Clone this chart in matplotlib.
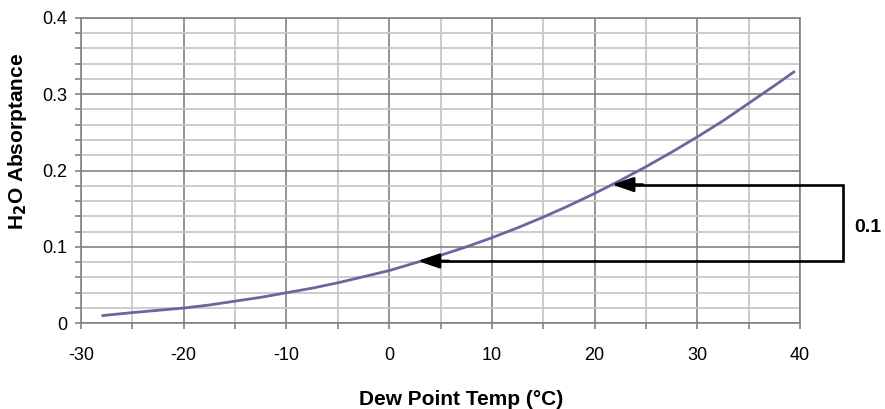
import matplotlib.pyplot as plt
from matplotlib.ticker import MultipleLocator

plt.rcParams['font.family'] = ['Liberation Sans', 'DejaVu Sans']

# values
dew_point = [-28, -25, -22.5, -20, -17.5, -15, -12.5, -10, -7.5, -5, -2.5, 0,
             2.5, 5, 7.5, 10, 12.5, 15, 17.5, 20, 22.5, 25, 27.5, 30, 32.5,
             35, 37.5, 39.5]
absorptance = [0.010, 0.014, 0.017, 0.020, 0.024, 0.029, 0.034, 0.040, 0.046,
               0.053, 0.061, 0.069, 0.079, 0.089, 0.100, 0.112, 0.125, 0.139,
               0.154, 0.170, 0.187, 0.205, 0.224, 0.244, 0.265, 0.288, 0.311,
               0.330]

# annotation: two levels differing by 0.1
arrow_y = [0.1816, 0.0816]
arrow_tip_x = [21.7, 2.8]
bracket_x = 44.2
delta_label = "0.1"

x_ticks = [-30, -20, -10, 0, 10, 20, 30, 40]
y_ticks = [0, 0.1, 0.2, 0.3, 0.4]
y_tick_labels = ["0", "0.1", "0.2", "0.3", "0.4"]

fig = plt.figure(figsize=(8.85, 4.09), dpi=100)
ax = fig.add_axes([0.0915, 0.2095, 0.8125, 0.7472])

ax.set_xlim(-30, 40)
ax.set_ylim(0, 0.4)

ax.xaxis.set_major_locator(MultipleLocator(10))
ax.xaxis.set_minor_locator(MultipleLocator(5))
ax.yaxis.set_major_locator(MultipleLocator(0.1))
ax.yaxis.set_minor_locator(MultipleLocator(0.02))
ax.set_xticks(x_ticks)
ax.set_xticklabels([str(t) for t in x_ticks])
ax.set_yticks(y_ticks)
ax.set_yticklabels(y_tick_labels)

ax.grid(which='minor', color='#c8c8c8', linewidth=1.3)
ax.grid(which='major', color='#828282', linewidth=1.2)
ax.set_axisbelow(True)

for s in ax.spines.values():
    s.set_color('#828282')
    s.set_linewidth(1.2)

ax.tick_params(axis='both', which='both', direction='out', color='#828282', width=1.2)
ax.tick_params(axis='x', which='both', length=4, pad=13, labelsize=13)
ax.tick_params(axis='y', which='both', length=4, pad=6, labelsize=13)

ax.plot(dew_point, absorptance, color='#68689e', linewidth=2.0,
        solid_capstyle='butt', solid_joinstyle='round', zorder=3)

# bracket + arrows
ax.plot([arrow_tip_x[0] + 1.5, bracket_x, bracket_x, arrow_tip_x[1] + 1.5],
        [arrow_y[0], arrow_y[0], arrow_y[1], arrow_y[1]],
        color='black', linewidth=1.9, clip_on=False, zorder=4, solid_joinstyle='miter')
for tip, yv in zip(arrow_tip_x, arrow_y):
    ax.annotate('', xy=(tip, yv), xytext=(tip + 3, yv), annotation_clip=False,
                arrowprops=dict(arrowstyle='-|>,head_length=1.3,head_width=0.45',
                                color='black', lw=1.9, shrinkA=0, shrinkB=0), zorder=5)

ax.text(bracket_x + 1.1, sum(arrow_y) / 2 - 0.006, delta_label, fontsize=14, fontweight='bold',
        ha='left', va='center', clip_on=False)

ax.set_xlabel("Dew Point Temp (°C)", fontsize=15, fontweight='bold', va='center')
ax.xaxis.set_label_coords(0.528, -0.25)
ax.set_ylabel("H$_\\mathbf{2}$O Absorptance", fontsize=15, fontweight='bold', va='center')
ax.yaxis.set_label_coords(-0.088, 0.595)

fig.savefig("out.png", dpi=100)
